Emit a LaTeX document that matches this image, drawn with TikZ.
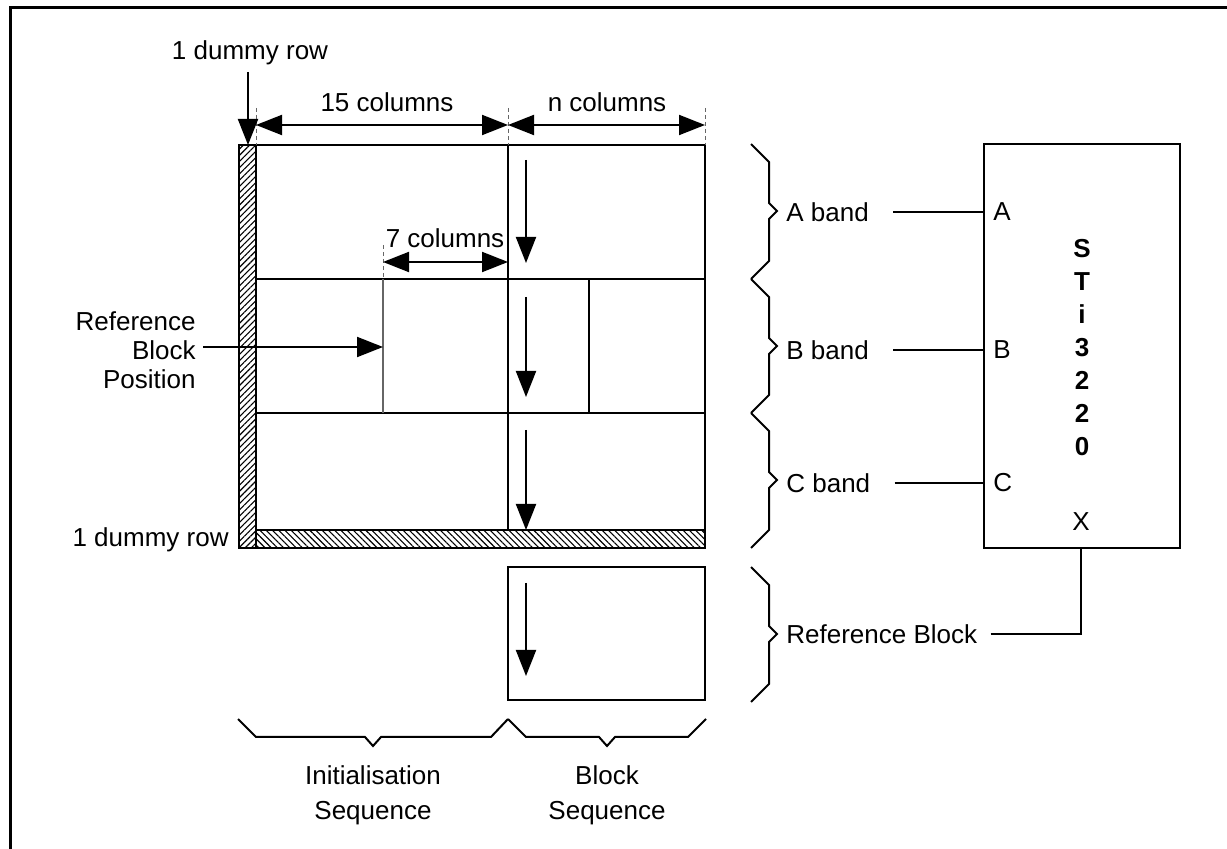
\documentclass[tikz,border=0pt]{standalone}
\usepackage{fontspec}
\setmainfont{Liberation Sans}
\usetikzlibrary{arrows.meta, patterns.meta, positioning}

\begin{document}
\begin{tikzpicture}
  [x=0.5pt, y=-0.5pt,
  lsty/.style={inner sep=0pt, font=\fontsize{13}{15}\selectfont},
  gsty/.style={line width=1pt},
  csty/.style={line width=0.6pt},
  asty/.style={-{Triangle[length=13pt, width=10pt]}, line width=1pt},
  dsty/.style={{Triangle[length=13pt, width=10pt]}-{Triangle[length=13pt, width=10pt]}, line width=1pt},
  tsty/.style={line width=0.4pt, dash pattern=on 2pt off 1.5pt, black!60},
  bsty/.style={line width=1pt, line join=miter}]

  \useasboundingbox (0,0) rectangle (1227,849);
  % frame
  \draw[line width=1.5pt] (10,849) -- (10,7.5) -- (1227,7.5);

  % dummy rows
  \fill[pattern={Lines[angle=45, distance=2.2pt, line width=0.55pt]}] (239,145) rectangle (256,548);
  \draw[gsty] (239,145) rectangle (256,548);
  \fill[pattern={Lines[angle=-45, distance=2.2pt, line width=0.55pt]}] (256,530) rectangle (705,548);
  \draw[gsty] (256,530) rectangle (705,548);

  % picture grid
  \draw[gsty] (256,145) rectangle (705,530);
  \draw[gsty] (256,279) -- (705,279);
  \draw[gsty] (256,413) -- (705,413);
  \draw[gsty] (508,145) -- (508,530);
  \draw[gsty] (589,279) -- (589,413);
  \draw[csty, black!60] (383,279) -- (383,413);
  \draw[gsty] (508,567) rectangle (705,700);

  % block scan arrows
  \draw[asty] (526,160) -- (526,263);
  \draw[asty] (526,297) -- (526,397);
  \draw[asty] (526,430) -- (526,530);
  \draw[asty] (526,583) -- (526,676);

  % dimensions
  \coordinate (c0) at (256,125);
  \coordinate (c15) at (508,125);
  \coordinate (cn) at (705,125);
  \coordinate (c7a) at (383,262);
  \coordinate (c7b) at (508,262);
  \draw[tsty] (256,108) -- (256,145);
  \draw[tsty] (508,108) -- (508,145);
  \draw[tsty] (705,108) -- (705,145);
  \draw[tsty] (383,245) -- (383,279);
  \draw[dsty] (c0) -- (c15);
  \draw[dsty] (c15) -- (cn);
  \draw[dsty] (c7a) -- (c7b);
  \node[lsty] (col15) at (387,102) {15 columns};
  \node[lsty] (coln) at (607,102) {n columns};
  \node[lsty] (col7) at (445,238) {7 columns};

  % left labels
  \node[lsty] (dumtop) at (250,53) {1 dummy row};
  \coordinate (dumstart) at (248,72);
  \coordinate (dumtip) at (248,145);
  \draw[asty] (dumstart) -- (dumtip);
  \node[lsty, anchor=east] (dumbot) at (229,540) {1 dummy row};
  \node[lsty, anchor=east, align=right, font=\fontsize{13}{14.5}\selectfont] (refpos) at (196,350)
    {Reference\\Block\\Position};
  \coordinate (refpostip) at (383,347);
  \draw[asty] (refpos.east |- refpostip) ++(7,0) -- (refpostip);

  % right braces
  \draw[bsty] (751,144) -- (769,162) -- (769,203) -- (777,211) -- (769,219) -- (769,261) -- (751,279);
  \draw[bsty] (751,279) -- (769,297) -- (769,338) -- (777,346) -- (769,354) -- (769,395) -- (751,413);
  \draw[bsty] (751,413) -- (769,431) -- (769,472) -- (777,480) -- (769,488) -- (769,530) -- (751,548);
  \draw[bsty] (751,567) -- (769,585) -- (769,626) -- (777,634) -- (769,642) -- (769,684) -- (751,702);
  \coordinate (atip) at (777,212);
  \coordinate (btip) at (777,350);
  \coordinate (ctip) at (777,483);
  \coordinate (rtip) at (777,634);
  \node[lsty, right=4.5pt of atip] (aband) {A band};
  \node[lsty, right=4.5pt of btip] (bband) {B band};
  \node[lsty, right=4.5pt of ctip] (cband) {C band};
  \node[lsty, right=4.5pt of rtip] (refblk) {Reference Block};

  % bottom braces
  \draw[bsty] (238,719) -- (256,737) -- (365,737) -- (373,746) -- (381,737) -- (491,737) -- (508,719);
  \draw[bsty] (508,719) -- (526,737) -- (599,737) -- (607,746) -- (615,737) -- (688,737) -- (706,719);
  \node[lsty, align=center, font=\fontsize{13}{17.5}\selectfont] (initseq) at (373,795) {Initialisation\\Sequence};
  \node[lsty, align=center, font=\fontsize{13}{17.5}\selectfont] (blkseq) at (607,795) {Block\\Sequence};

  % STi3220
  \node[draw, line width=0.7pt, minimum width=98pt, minimum height=202pt, inner sep=0pt] (chip) at (1082,346) {};
  \node[lsty, align=center, font=\fontsize{13}{16.5}\selectfont\bfseries] (chipname) at (1082,348) {S\\T\\i\\3\\2\\2\\0};
  \node[lsty, anchor=west] (pa) at (993,212) {A};
  \node[lsty, anchor=west] (pb) at (993,350) {B};
  \node[lsty, anchor=west] (pc) at (993,483) {C};
  \node[lsty] (px) at (1081,522) {X};
  \draw[csty] ([xshift=12pt]aband.east) -- (chip.west |- aband);
  \draw[csty] ([xshift=12pt]bband.east) -- (chip.west |- bband);
  \draw[csty] ([xshift=12pt]cband.east) -- (chip.west |- cband);
  \draw[csty] ([xshift=6.5pt]refblk.east) -| (px |- chip.south);
\end{tikzpicture}
\end{document}
